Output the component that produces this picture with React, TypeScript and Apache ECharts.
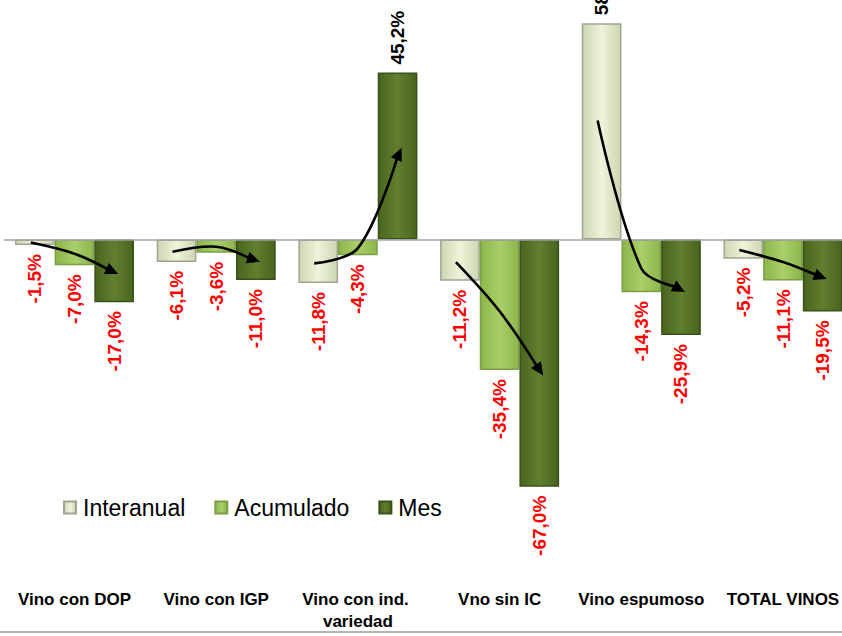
import React, { useEffect, useRef } from "react";
import * as echarts from "echarts";

const categories = [
  "Vino con DOP",
  "Vino con IGP",
  "Vino con ind. variedad",
  "Vno sin IC",
  "Vino espumoso",
  "TOTAL VINOS",
];
const interanual = [-1.5, -6.1, -11.8, -11.2, 58.6, -5.2];
const acumulado = [-7.0, -3.6, -4.3, -35.4, -14.3, -11.1];
const mes = [-17.0, -11.0, 45.2, -67.0, -25.9, -19.5];
const seriesNames = ["Interanual", "Acumulado", "Mes"];

const FONT = "'Liberation Sans', Arial, sans-serif";

const hGrad = (edge: string, mid: string) =>
  new echarts.graphic.LinearGradient(0, 0, 1, 0, [
    { offset: 0, color: edge },
    { offset: 0.5, color: mid },
    { offset: 1, color: edge },
  ]);

const fmt = (v: number) => v.toFixed(1).replace(".", ",") + "%";

const posLabel = {
  show: true,
  position: "top",
  rotate: 90,
  align: "left",
  verticalAlign: "middle",
  distance: 8,
  color: "#000000",
};
const negLabel = {
  show: true,
  position: "bottom",
  rotate: 90,
  align: "right",
  verticalAlign: "middle",
  distance: 9,
  color: "#ff0000",
};

const makeData = (vals: number[]) =>
  vals.map((v) => ({ value: v, label: v >= 0 ? posLabel : negLabel }));

export default function App() {
  const ref = useRef<HTMLDivElement>(null);
  useEffect(() => {
    document.body.style.margin = "0";
    const chart = echarts.init(ref.current!, null, { renderer: "svg" });
    const BAR_FRAC = 0.84;
    const styles = [
      { color: hGrad("#cdd6b2", "#eef4d9"), borderColor: "#9ea593" },
      { color: hGrad("#8cb54c", "#a9d068"), borderColor: "#7c9e45" },
      { color: hGrad("#48651e", "#617f2f"), borderColor: "#3a501a" },
    ];
    const allVals = [interanual, acumulado, mes];
    const barSeries = allVals.map((vals, k) => ({
      name: seriesNames[k],
      type: "bar",
      data: makeData(vals),
      barGap: "0%",
      barCategoryGap: "16%",
      itemStyle: { ...styles[k], borderWidth: 1.5 },
      label: {
        fontFamily: FONT,
        fontSize: 19,
        fontWeight: "bold",
        formatter: (p: any) => fmt(p.value),
      },
      markLine:
        k === 0
          ? {
              silent: true,
              symbol: ["none", "none"],
              label: { show: false },
              lineStyle: { color: "#a6a6a6", width: 1.5, type: "solid" },
              data: [{ yAxis: 0 }],
            }
          : undefined,
      z: 2,
    }));

    const arrowSeries = {
      type: "custom",
      silent: true,
      clip: false,
      z: 10,
      encode: { x: 0, y: [1, 2, 3] },
      data: categories.map((_, i) => [i, interanual[i], acumulado[i], mes[i]]),
      renderItem: (params: any, api: any) => {
        const idx = api.value(0);
        const vals = [api.value(1), api.value(2), api.value(3)];
        const catW = api.size([1, 0])[0];
        const bw = (catW * BAR_FRAC) / 3;
        const cx = api.coord([idx, 0])[0];
        const pts = vals.map((v: number, k: number) => {
          const y = api.coord([idx, v * 0.55])[1];
          const x = cx + (k - 1) * bw + (k === 0 ? -4 : k === 2 ? 4 : 0);
          return [x, y];
        });
        const end = pts[2];
        const prev = pts[1];
        let dx = end[0] - prev[0];
        let dy = end[1] - prev[1];
        const len = Math.sqrt(dx * dx + dy * dy) || 1;
        dx /= len;
        dy /= len;
        const headL = 13;
        const headW = 6;
        const base = [end[0] - dx * headL, end[1] - dy * headL];
        const nx = -dy;
        const ny = dx;
        const lineEnd = [end[0] - dx * (headL - 2), end[1] - dy * (headL - 2)];
        return {
          type: "group",
          children: [
            {
              type: "polyline",
              shape: { points: [pts[0], pts[1], lineEnd], smooth: 0.35 },
              style: { stroke: "#000", lineWidth: 2.6, fill: null },
            },
            {
              type: "polygon",
              shape: {
                points: [
                  end,
                  [base[0] + nx * headW, base[1] + ny * headW],
                  [base[0] - nx * headW, base[1] - ny * headW],
                ],
              },
              style: { fill: "#000" },
            },
          ],
        };
      },
    };

    chart.setOption({
      animation: false,
      backgroundColor: "#ffffff",
      textStyle: { fontFamily: FONT },
      grid: {
        left: 3.65,
        width: 850.2,
        top: 18,
        height: 553.6,
        containLabel: false,
        outerBoundsMode: "none",
      },
      legend: {
        data: seriesNames,
        left: 58,
        top: 489,
        icon: "rect",
        itemWidth: 12,
        itemHeight: 12,
        itemGap: 29,
        textStyle: {
          fontFamily: FONT,
          fontSize: 23,
          color: "#000",
          padding: [0, 0, 0, 2],
          lineHeight: 27,
        },
      },
      xAxis: {
        type: "category",
        data: categories,
        axisLine: { show: false, onZero: false },
        axisTick: { show: false },
        splitLine: { show: false },
        axisLabel: {
          interval: 0,
          fontFamily: FONT,
          fontSize: 17,
          fontWeight: "bold",
          color: "#000",
          margin: 17,
          lineHeight: 22,
          width: 135,
          overflow: "break",
        },
      },
      yAxis: {
        type: "value",
        min: -90,
        max: 60,
        show: false,
        splitLine: { show: false },
      },
      graphic: [
        {
          type: "line",
          shape: { x1: 0, y1: 632, x2: 842, y2: 632 },
          style: { stroke: "#b4b4b4", lineWidth: 2 },
        },
      ],
      series: [...barSeries, arrowSeries],
    });
    return () => chart.dispose();
  }, []);
  return (
    <div
      ref={ref}
      style={{ position: "fixed", left: 0, top: 0, width: 842, height: 636, overflow: "hidden" }}
    />
  );
}
